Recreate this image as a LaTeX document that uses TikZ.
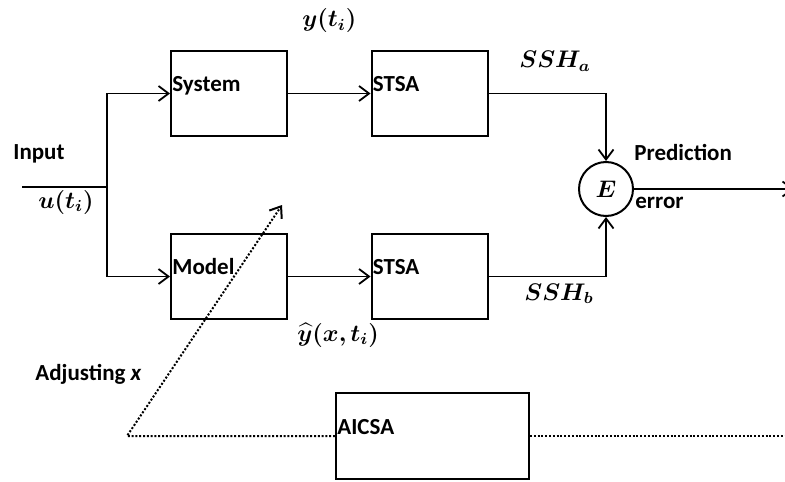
\documentclass[tikz,border=0pt]{standalone}
\usepackage{amsmath,bm}
\usepackage{fontspec}
\setmainfont{Carlito}
\usetikzlibrary{arrows.meta}

\begin{document}
\begin{tikzpicture}[x=0.5pt,y=-0.5pt,font=\fontsize{11.5}{13}\selectfont\bfseries,
    blk/.style={draw,line width=1pt,minimum width=58pt,minimum height=42.5pt,inner sep=0pt},
    intext/.style={label={[anchor=base west,inner sep=0pt,xshift=1pt,yshift=1pt]west:#1}},
    arr/.style={-{Straight Barb[length=5pt,width=7.5pt]},line width=0.9pt},
    dots/.style={line width=1pt,dash pattern=on 1pt off 0.9pt},
    tag/.style={anchor=base west,inner sep=0pt}]
    \useasboundingbox (0,0) rectangle (785,481);
    % blocks
    \node[blk,intext=System] (system) at (229,93.5) {};
    \node[blk,intext=STSA] (stsaA) at (429.5,93.5) {};
    \node[blk,intext=Model] (model) at (229,276.5) {};
    \node[blk,intext=STSA] (stsaB) at (429.5,276.5) {};
    \node[blk,minimum width=96.5pt,minimum height=43pt,intext=AICSA] (aicsa) at (432.5,436) {};
    \node[draw,circle,line width=1pt,minimum size=27pt,inner sep=0pt] (err) at (606,189) {$\bm{E}$};
    \coordinate (inL) at (22,187);
    \coordinate (split) at (107,187);
    \coordinate (tune) at (127,436);
    \coordinate (tip) at (282,205);
    \coordinate (outR) at (794,189);
    \coordinate (dotR) at (785,436);
    % labels
    \node[tag] (lblIn) at (13,159) {Input};
    \node[tag] (lblU) at (38,208) {$\bm{u(t_i)}$};
    \node[tag] (lblY) at (302,27) {$\bm{y(t_i)}$};
    \node[tag] (lblYhat) at (297,341) {$\bm{\widehat{y}(x,t_i)}$};
    \node[tag] (lblSa) at (519,68) {$\bm{SSH_a}$};
    \node[tag] (lblSb) at (524,300) {$\bm{SSH_b}$};
    \node[tag] (lblPred) at (634,160) {Prediction};
    \node[tag] (lblErr) at (635,208) {error};
    \node[tag] (lblAdj) at (35,380) {Adjusting \textit{x}};
    % connectors
    \draw[line width=0.9pt] (inL)--(split);
    \draw[arr] (split)|-(system.west);
    \draw[arr] (split)|-(model.west);
    \draw[arr] (system)--(stsaA);
    \draw[arr] (model)--(stsaB);
    \draw[arr] (stsaA.east)-|(err.north);
    \draw[arr] (stsaB.east)-|(err.south);
    \draw[arr] (err.east)--(outR);
    \draw[dots] (aicsa.east)--(dotR);
    \draw[arr,dots] (aicsa.west)--(tune)--(tip);
\end{tikzpicture}
\end{document}
